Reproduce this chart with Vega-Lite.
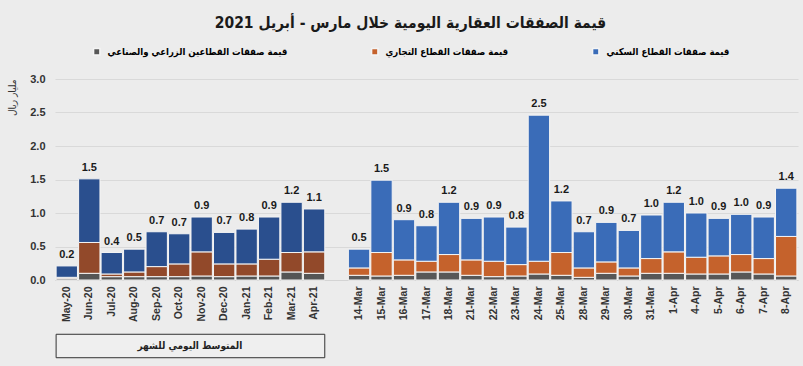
{
  "$schema": "https://vega.github.io/schema/vega-lite/v6.json",
  "width": 743,
  "height": 201,
  "autosize": {"type": "none"},
  "padding": {"left": 55, "top": 79, "right": 5, "bottom": 86},
  "background": "#ececec",
  "title": {
    "text": "قيمة الصفقات العقارية اليومية خلال مارس - أبريل 2021",
    "font": "DejaVu Sans Condensed",
    "fontSize": 15.5,
    "fontWeight": "bold",
    "color": "#1a1a1a",
    "anchor": "middle",
    "dx": -16,
    "offset": 16
  },
  "config": {
    "view": {"stroke": null},
    "font": "Liberation Sans, DejaVu Sans",
    "axisX": {
      "title": null,
      "labelAngle": -90,
      "labelFontSize": 10.5,
      "labelFontWeight": "bold",
      "labelColor": "#333333",
      "ticks": false,
      "labelPadding": 6,
      "domainColor": "#d4d4d4"
    },
    "axisY": {
      "titleFont": "DejaVu Sans Condensed",
      "titleFontSize": 10,
      "titleFontWeight": "normal",
      "titleColor": "#333333",
      "titleAnchor": "end",
      "titlePadding": 12,
      "format": ".1f",
      "labelFontSize": 11,
      "labelFontWeight": "bold",
      "labelColor": "#333333",
      "labelPadding": 10,
      "ticks": false,
      "domain": false,
      "gridColor": "#d9d9d9"
    }
  },
  "layer": [
    {
      "data": {
        "values": [
          {"cat": "May-20", "panel": "m", "ag": 0.02, "com": 0.02, "res": 0.17},
          {"cat": "Jun-20", "panel": "m", "ag": 0.10, "com": 0.46, "res": 0.95},
          {"cat": "Jul-20", "panel": "m", "ag": 0.05, "com": 0.04, "res": 0.32},
          {"cat": "Aug-20", "panel": "m", "ag": 0.05, "com": 0.07, "res": 0.34},
          {"cat": "Sep-20", "panel": "m", "ag": 0.05, "com": 0.15, "res": 0.52},
          {"cat": "Oct-20", "panel": "m", "ag": 0.05, "com": 0.19, "res": 0.45},
          {"cat": "Nov-20", "panel": "m", "ag": 0.06, "com": 0.36, "res": 0.52},
          {"cat": "Dec-20", "panel": "m", "ag": 0.05, "com": 0.19, "res": 0.47},
          {"cat": "Jan-21", "panel": "m", "ag": 0.06, "com": 0.18, "res": 0.52},
          {"cat": "Feb-21", "panel": "m", "ag": 0.06, "com": 0.25, "res": 0.63},
          {"cat": "Mar-21", "panel": "m", "ag": 0.12, "com": 0.29, "res": 0.75},
          {"cat": "Apr-21", "panel": "m", "ag": 0.10, "com": 0.32, "res": 0.64},
          {"cat": "14-Mar", "panel": "d", "ag": 0.07, "com": 0.11, "res": 0.28},
          {"cat": "15-Mar", "panel": "d", "ag": 0.06, "com": 0.35, "res": 1.08},
          {"cat": "16-Mar", "panel": "d", "ag": 0.07, "com": 0.23, "res": 0.60},
          {"cat": "17-Mar", "panel": "d", "ag": 0.12, "com": 0.16, "res": 0.53},
          {"cat": "18-Mar", "panel": "d", "ag": 0.12, "com": 0.26, "res": 0.78},
          {"cat": "21-Mar", "panel": "d", "ag": 0.07, "com": 0.23, "res": 0.62},
          {"cat": "22-Mar", "panel": "d", "ag": 0.05, "com": 0.23, "res": 0.66},
          {"cat": "23-Mar", "panel": "d", "ag": 0.06, "com": 0.17, "res": 0.56},
          {"cat": "24-Mar", "panel": "d", "ag": 0.09, "com": 0.19, "res": 2.18},
          {"cat": "25-Mar", "panel": "d", "ag": 0.07, "com": 0.34, "res": 0.77},
          {"cat": "28-Mar", "panel": "d", "ag": 0.04, "com": 0.14, "res": 0.54},
          {"cat": "29-Mar", "panel": "d", "ag": 0.10, "com": 0.17, "res": 0.59},
          {"cat": "30-Mar", "panel": "d", "ag": 0.06, "com": 0.12, "res": 0.56},
          {"cat": "31-Mar", "panel": "d", "ag": 0.10, "com": 0.22, "res": 0.65},
          {"cat": "1-Apr", "panel": "d", "ag": 0.10, "com": 0.32, "res": 0.74},
          {"cat": "4-Apr", "panel": "d", "ag": 0.09, "com": 0.25, "res": 0.66},
          {"cat": "5-Apr", "panel": "d", "ag": 0.09, "com": 0.27, "res": 0.56},
          {"cat": "6-Apr", "panel": "d", "ag": 0.12, "com": 0.26, "res": 0.60},
          {"cat": "7-Apr", "panel": "d", "ag": 0.09, "com": 0.23, "res": 0.62},
          {"cat": "8-Apr", "panel": "d", "ag": 0.06, "com": 0.59, "res": 0.72}
        ]
      },
      "transform": [
        {"fold": ["ag", "com", "res"], "as": ["sector", "value"]},
        {"calculate": "datum.panel + '-' + datum.sector", "as": "key"}
      ],
      "encoding": {
        "x": {
          "field": "cat",
          "type": "nominal",
          "title": null,
          "scale": {
            "domain": ["May-20", "Jun-20", "Jul-20", "Aug-20", "Sep-20", "Oct-20", "Nov-20", "Dec-20", "Jan-21", "Feb-21", "Mar-21", "Apr-21", " ",
                       "14-Mar", "15-Mar", "16-Mar", "17-Mar", "18-Mar", "21-Mar", "22-Mar", "23-Mar", "24-Mar", "25-Mar", "28-Mar", "29-Mar", "30-Mar", "31-Mar", "1-Apr", "4-Apr", "5-Apr", "6-Apr", "7-Apr", "8-Apr"],
            "paddingInner": 0.05,
            "paddingOuter": 0.05
          }
        },
        "y": {
          "aggregate": "sum",
          "field": "value",
          "type": "quantitative",
          "title": "مليار ريال",
          "scale": {"domain": [0, 3], "nice": false},
          "axis": {"values": [0, 0.5, 1, 1.5, 2, 2.5, 3]}
        }
      },
      "layer": [
        {
          "mark": {"type": "bar", "stroke": "#f4f4f4", "strokeWidth": 1},
          "encoding": {
            "color": {
              "field": "key",
              "type": "nominal",
              "scale": {
                "domain": ["d-ag", "d-com", "d-res", "m-ag", "m-com", "m-res"],
                "range": ["#575757", "#c5622c", "#3a6cb8", "#555555", "#92492a", "#2a4f8e"]
              },
              "legend": {
                "values": ["d-ag", "d-com", "d-res"],
                "labelExpr": "datum.value == 'd-ag' ? 'قيمة صفقات القطاعين الزراعي والصناعي' : datum.value == 'd-com' ? 'قيمة صفقات القطاع التجاري' : 'قيمة صفقات القطاع السكني'",
                "title": null,
                "orient": "none",
                "direction": "horizontal",
                "gridAlign": "none",
                "legendX": 37,
                "legendY": -32,
                "columnPadding": 80,
                "symbolType": "square",
                "symbolSize": 40,
                "labelFont": "DejaVu Sans Condensed",
                "labelFontSize": 9.5,
                "labelFontWeight": "bold",
                "labelLimit": 400,
                "labelOffset": 6,
                "encode": {
                  "labels": {"update": {"fill": {"scale": "color", "field": "value"}}}
                }
              }
            },
            "order": {"field": "sector", "sort": "ascending"}
          }
        },
        {
          "mark": {"type": "text", "fontWeight": "bold", "fontSize": 11, "color": "#1a1a1a", "baseline": "bottom", "dy": -6},
          "encoding": {
            "text": {"aggregate": "sum", "field": "value", "type": "quantitative", "format": ".1f"}
          }
        }
      ]
    },
    {
      "data": {"values": [{"note": "المتوسط اليومي للشهر"}]},
      "layer": [
        {
          "mark": {"type": "rect", "fill": "#efefef", "stroke": "#333333", "strokeWidth": 1},
          "encoding": {
            "x": {"datum": "May-20", "bandPosition": 0, "title": null},
            "x2": {"datum": "Apr-21", "bandPosition": 1},
            "y": {"datum": -0.81, "title": "مليار ريال", "axis": {"values": [0, 0.5, 1, 1.5, 2, 2.5, 3]}},
            "y2": {"datum": -1.16}
          }
        },
        {
          "mark": {"type": "text", "font": "DejaVu Sans Condensed", "fontSize": 10, "fontWeight": "bold", "color": "#222222"},
          "encoding": {
            "x": {"datum": "Oct-20", "bandPosition": 1, "title": null},
            "y": {"datum": -0.985, "title": "مليار ريال", "axis": {"values": [0, 0.5, 1, 1.5, 2, 2.5, 3]}},
            "text": {"field": "note"}
          }
        }
      ]
    }
  ]
}
